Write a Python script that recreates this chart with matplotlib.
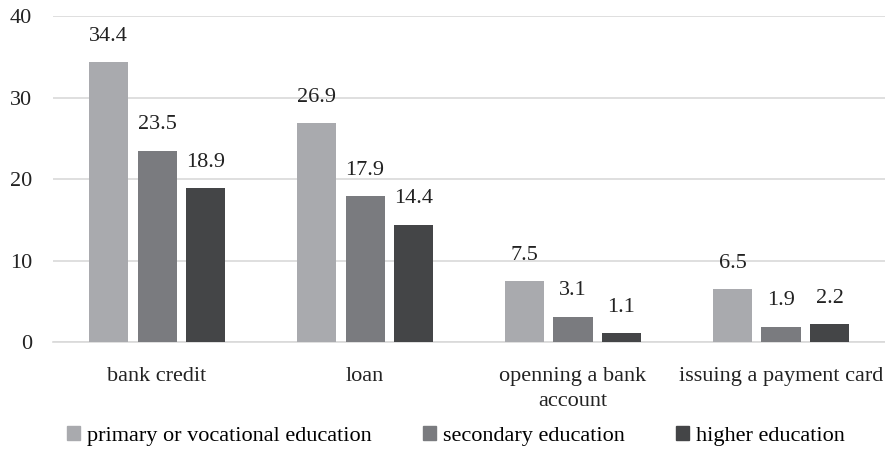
import numpy as np
import matplotlib.pyplot as plt
from matplotlib.patches import Patch

categories = ['bank credit', 'loan', 'openning a bank\naccount', 'issuing a payment card']
series_names = ['primary or vocational education', 'secondary education', 'higher education']
primary = [34.4, 26.9, 7.5, 6.5]
secondary = [23.5, 17.9, 3.1, 1.9]
higher = [18.9, 14.4, 1.1, 2.2]
colors = ['#A9AAAE', '#7A7B7F', '#444547']

plt.rcParams['font.family'] = ['Liberation Serif', 'DejaVu Serif']
plt.rcParams['font.size'] = 16

fig = plt.figure(figsize=(8.85, 4.5), dpi=100)
ax = fig.add_axes([0.06, 0.24, 0.94, 0.724])

x = np.arange(len(categories))
width = 0.188
step = 0.233
for i, (vals, c) in enumerate(zip([primary, secondary, higher], colors)):
    pos = x + (i - 1) * step
    ax.bar(pos, vals, width=width, color=c, zorder=3)
    for px, v in zip(pos, vals):
        ax.text(px, v + 2.0, f'{v:.1f}', ha='center', va='bottom', fontsize=16, color='#222222')

ax.set_xlim(-0.5, 3.5)
ax.set_ylim(0, 40)
ax.set_yticks([0, 10, 20, 30, 40])
ax.yaxis.grid(True, color='#D9D9D9', linewidth=1.2, zorder=0)
ax.set_xticks(x)
ax.set_xticklabels(categories, color='#222222', linespacing=1.4)
ax.tick_params(axis='both', length=0, labelcolor='#222222')
ax.tick_params(axis='y', pad=15)
ax.tick_params(axis='x', pad=18)
for s in ['top', 'right', 'left']:
    ax.spines[s].set_visible(False)
ax.spines['bottom'].set_color('#D9D9D9')
ax.spines['bottom'].set_linewidth(1.2)

handles = [Patch(color=c) for c in colors]
fig.legend(handles, series_names, loc='lower center', ncol=3, frameon=False,
           bbox_to_anchor=(0.515, -0.035), handlelength=0.6, handleheight=0.6,
           handletextpad=0.3, columnspacing=2.3, fontsize=16)

fig.savefig('out.png', dpi=100)
